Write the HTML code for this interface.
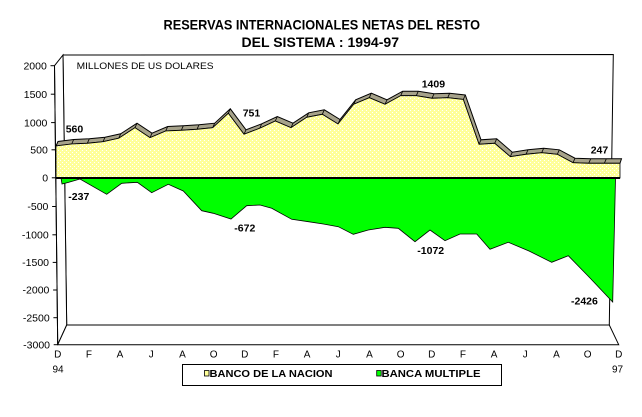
<!DOCTYPE html>
<html>
<head>
<meta charset="utf-8">
<style>
  html, body { margin: 0; padding: 0; background: #ffffff; }
  svg { display: block; }
  text { font-family: "Liberation Sans", Arial, sans-serif; fill: #000; }
</style>
</head>
<body>
<svg width="642" height="417" viewBox="0 0 642 417" xmlns="http://www.w3.org/2000/svg">
  <defs>
    <pattern id="dots" x="0" y="0" width="4" height="4" patternUnits="userSpaceOnUse">
      <rect x="0" y="0" width="4" height="4" fill="#FFFF99"/>
      <rect x="0" y="0" width="1" height="1" fill="#FFFFFF"/>
      <rect x="2" y="2" width="1" height="1" fill="#FFFFFF"/>
    </pattern>
  </defs>

  <rect x="0" y="0" width="642" height="417" fill="#ffffff"/>

  <!-- Title -->
  <text x="163.5" y="29.5" font-size="14" font-weight="bold" textLength="316.5" lengthAdjust="spacingAndGlyphs">RESERVAS INTERNACIONALES NETAS DEL RESTO</text>
  <text x="241.5" y="47" font-size="14" font-weight="bold" textLength="157.5" lengthAdjust="spacingAndGlyphs">DEL SISTEMA : 1994-97</text>

  <!-- 3D walls -->
  <polygon points="63,55 613.3,54.5 609.3,325 66.7,325" fill="#ffffff" stroke="#000" stroke-width="1"/>
  <polygon points="54.5,65.7 63,55 66.7,325 57.7,344.7" fill="#ffffff" stroke="#000" stroke-width="1"/>
  <polygon points="57.7,344.7 618.7,344.7 609.3,325 66.7,325" fill="#ffffff" stroke="#000" stroke-width="1"/>

  <text x="76.6" y="69" font-size="9.5" textLength="137" lengthAdjust="spacingAndGlyphs">MILLONES DE US DOLARES</text>

  <!-- Green series (Banca Multiple) -->
  <polygon points="61,178 62,184 68,182.5 80,179 106.7,194.3 121.7,183.3 137.3,182.3 151.7,192.7 168.3,184.3 183.3,191 201.7,210.7 213.3,213.3 231,219 246.7,205.7 260,205 271.7,208.3 291.7,219.3 308.3,221.7 323.3,224 338.3,226.7 353.3,234.3 368.3,230 385,227.3 398.3,228.3 415,241.7 430,230 445,240.7 460,234 476.7,234 490,249.3 508.3,242.3 529,251 551.7,262.3 568.3,255.7 590,278 612.7,302 615.5,178" fill="#00FF00" stroke="#000" stroke-width="0.8"/>

  <!-- Yellow series top band -->
  <polygon points="56,146 71.7,144 87.3,143.3 103,141.7 118.7,138.3 135,127.7 150,137.7 165.7,131 181.3,130.3 197,129.3 212.7,127.7 228.3,113.3 244,134.3 259.7,128.3 275.3,121 291,127.7 306.7,117.3 322.3,114.3 338,124 353.7,104.3 369.3,97.7 385,104.3 400.7,95.7 416.3,95.7 432,98.3 447.7,97.7 463.3,99.5 479,144.3 494.7,143.3 510.3,156.7 526,154.3 541.7,152.7 557.3,154.3 573,162.7 588.7,163.3 604.3,163.3 620,163.3 621.5,158.8 606.3,158.8 590.7,158.8 575,158.2 559.3,149.8 543.7,148.2 528,149.8 512.3,152.2 496.7,138.8 481,139.8 465.3,95 449.7,93.2 434,93.8 418.3,91.2 402.7,91.2 387,99.8 371.3,93.2 355.7,99.8 340,119.5 324.3,109.8 308.7,112.8 293,123.2 277.3,116.5 261.7,123.8 246,129.8 230.3,108.8 214.7,123.2 199,124.8 183.3,125.8 167.7,126.5 152,133.2 137,123.2 120.7,133.8 105,137.2 89.3,138.8 73.7,139.5 58,141.5" fill="#A6A28A" stroke="#000" stroke-width="1"/>

  <!-- band separators -->
  <g stroke="#000" stroke-width="0.8">
    <line x1="71.7" y1="144" x2="73.7" y2="139.5"/>
    <line x1="87.3" y1="143.3" x2="89.3" y2="138.8"/>
    <line x1="103" y1="141.7" x2="105" y2="137.2"/>
    <line x1="118.7" y1="138.3" x2="120.7" y2="133.8"/>
    <line x1="135" y1="127.7" x2="137" y2="123.2"/>
    <line x1="150" y1="137.7" x2="152" y2="133.2"/>
    <line x1="165.7" y1="131" x2="167.7" y2="126.5"/>
    <line x1="181.3" y1="130.3" x2="183.3" y2="125.8"/>
    <line x1="197" y1="129.3" x2="199" y2="124.8"/>
    <line x1="212.7" y1="127.7" x2="214.7" y2="123.2"/>
    <line x1="228.3" y1="113.3" x2="230.3" y2="108.8"/>
    <line x1="244" y1="134.3" x2="246" y2="129.8"/>
    <line x1="259.7" y1="128.3" x2="261.7" y2="123.8"/>
    <line x1="275.3" y1="121" x2="277.3" y2="116.5"/>
    <line x1="291" y1="127.7" x2="293" y2="123.2"/>
    <line x1="306.7" y1="117.3" x2="308.7" y2="112.8"/>
    <line x1="322.3" y1="114.3" x2="324.3" y2="109.8"/>
    <line x1="338" y1="124" x2="340" y2="119.5"/>
    <line x1="353.7" y1="104.3" x2="355.7" y2="99.8"/>
    <line x1="369.3" y1="97.7" x2="371.3" y2="93.2"/>
    <line x1="385" y1="104.3" x2="387" y2="99.8"/>
    <line x1="400.7" y1="95.7" x2="402.7" y2="91.2"/>
    <line x1="416.3" y1="95.7" x2="418.3" y2="91.2"/>
    <line x1="432" y1="98.3" x2="434" y2="93.8"/>
    <line x1="447.7" y1="97.7" x2="449.7" y2="93.2"/>
    <line x1="463.3" y1="99.5" x2="465.3" y2="95"/>
    <line x1="479" y1="144.3" x2="481" y2="139.8"/>
    <line x1="494.7" y1="143.3" x2="496.7" y2="138.8"/>
    <line x1="510.3" y1="156.7" x2="512.3" y2="152.2"/>
    <line x1="526" y1="154.3" x2="528" y2="149.8"/>
    <line x1="541.7" y1="152.7" x2="543.7" y2="148.2"/>
    <line x1="557.3" y1="154.3" x2="559.3" y2="149.8"/>
    <line x1="573" y1="162.7" x2="575" y2="158.2"/>
    <line x1="588.7" y1="163.3" x2="590.7" y2="158.8"/>
    <line x1="604.3" y1="163.3" x2="606.3" y2="158.8"/>
  </g>

  <!-- Yellow series front face -->
  <polygon points="56,146 71.7,144 87.3,143.3 103,141.7 118.7,138.3 135,127.7 150,137.7 165.7,131 181.3,130.3 197,129.3 212.7,127.7 228.3,113.3 244,134.3 259.7,128.3 275.3,121 291,127.7 306.7,117.3 322.3,114.3 338,124 353.7,104.3 369.3,97.7 385,104.3 400.7,95.7 416.3,95.7 432,98.3 447.7,97.7 463.3,99.5 479,144.3 494.7,143.3 510.3,156.7 526,154.3 541.7,152.7 557.3,154.3 573,162.7 588.7,163.3 604.3,163.3 620,163.3 620,178 56,178" fill="url(#dots)" stroke="#000" stroke-width="0.8"/>

  <!-- zero line -->
  <line x1="56" y1="178" x2="620" y2="178" stroke="#000" stroke-width="2"/>

  <!-- front value axis -->
  <line x1="54.5" y1="65.7" x2="57.7" y2="344.7" stroke="#000" stroke-width="1"/>
  <g stroke="#000" stroke-width="1">
    <line x1="50.5" y1="65.7" x2="54.5" y2="65.7"/>
    <line x1="50.8" y1="94.2" x2="54.8" y2="94.2"/>
    <line x1="51.1" y1="122.6" x2="55.1" y2="122.6"/>
    <line x1="51.5" y1="149.8" x2="55.5" y2="149.8"/>
    <line x1="51.8" y1="177.8" x2="55.8" y2="177.8"/>
    <line x1="52.1" y1="206.5" x2="56.1" y2="206.5"/>
    <line x1="52.4" y1="234.8" x2="56.4" y2="234.8"/>
    <line x1="52.7" y1="262.4" x2="56.7" y2="262.4"/>
    <line x1="53.1" y1="290" x2="57.1" y2="290"/>
    <line x1="53.4" y1="317.7" x2="57.4" y2="317.7"/>
    <line x1="53.7" y1="344.7" x2="57.7" y2="344.7"/>
  </g>
  <g font-size="10.5" text-anchor="end">
    <text x="46.8" y="69.4">2000</text>
    <text x="47.1" y="97.9">1500</text>
    <text x="47.4" y="126.3">1000</text>
    <text x="47.8" y="153.5">500</text>
    <text x="48.1" y="181.5">0</text>
    <text x="48.4" y="210.2">-500</text>
    <text x="48.7" y="238.5">-1000</text>
    <text x="49" y="266.1">-1500</text>
    <text x="49.4" y="293.7">-2000</text>
    <text x="49.7" y="321.4">-2500</text>
    <text x="50" y="348.4">-3000</text>
  </g>

  <!-- X axis labels -->
  <g font-size="10" text-anchor="middle">
    <text x="57.7" y="357.5">D</text>
    <text x="88.9" y="357.5">F</text>
    <text x="120" y="357.5">A</text>
    <text x="151.2" y="357.5">J</text>
    <text x="182.4" y="357.5">A</text>
    <text x="213.6" y="357.5">O</text>
    <text x="244.7" y="357.5">D</text>
    <text x="275.9" y="357.5">F</text>
    <text x="307.1" y="357.5">A</text>
    <text x="338.2" y="357.5">J</text>
    <text x="369.4" y="357.5">A</text>
    <text x="400.6" y="357.5">O</text>
    <text x="431.7" y="357.5">D</text>
    <text x="462.9" y="357.5">F</text>
    <text x="494.1" y="357.5">A</text>
    <text x="525.3" y="357.5">J</text>
    <text x="556.4" y="357.5">A</text>
    <text x="587.6" y="357.5">O</text>
    <text x="618.7" y="357.5">D</text>
    <text x="58" y="372.7">94</text>
    <text x="617.5" y="372.7">97</text>
  </g>

  <!-- Data labels -->
  <g font-size="10.5" font-weight="bold">
    <text x="65.7" y="132.7">560</text>
    <text x="242.7" y="116.7">751</text>
    <text x="421.7" y="87.7">1409</text>
    <text x="590.7" y="153.3">247</text>
    <text x="68.3" y="200">-237</text>
    <text x="234.3" y="231.7">-672</text>
    <text x="417.3" y="254">-1072</text>
    <text x="571" y="304.3">-2426</text>
  </g>

  <!-- Legend -->
  <rect x="182.5" y="364.5" width="319" height="21" fill="#ffffff" stroke="#000" stroke-width="1"/>
  <rect x="204.5" y="370.5" width="4.5" height="5.5" fill="#FFFF99" stroke="#000" stroke-width="0.8"/>
  <text x="209.5" y="377" font-size="10.5" font-weight="bold" textLength="123" lengthAdjust="spacingAndGlyphs">BANCO DE LA NACION</text>
  <rect x="376.7" y="370.5" width="4.5" height="5.5" fill="#00FF00" stroke="#000" stroke-width="0.8"/>
  <text x="381.5" y="377" font-size="10.5" font-weight="bold" textLength="99" lengthAdjust="spacingAndGlyphs">BANCA MULTIPLE</text>
</svg>
</body>
</html>
